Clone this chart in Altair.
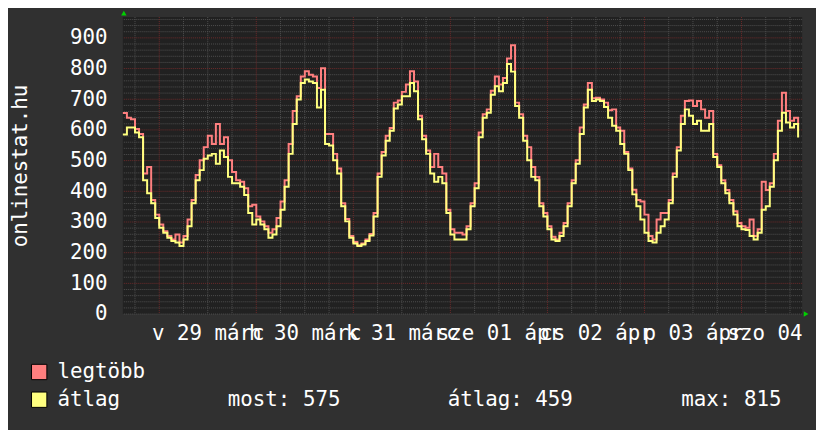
import json
import altair as alt
import pandas as pd

FONT = "DejaVu Sans Mono"

# hours since 28 Mar 15:00, one sample per hour
hours = list(range(168))

atlag = [585, 608, 608, 592, 576, 436, 394, 361, 313, 281, 265, 249, 238, 233, 222, 243,
         286, 361, 436, 469, 506, 517, 522, 490, 533, 512, 447, 426, 426, 415, 388, 329,
         292, 308, 292, 276, 249, 259, 286, 340, 415, 522, 619, 699, 753, 764, 758, 753,
         673, 731, 554, 549, 501, 458, 351, 302, 249, 230, 222, 227, 238, 256, 318, 447,
         517, 565, 597, 670, 683, 710, 710, 753, 726, 635, 570, 522, 458, 431, 447, 426,
         329, 259, 243, 243, 243, 276, 351, 410, 576, 640, 656, 715, 742, 726, 753, 815,
         790, 678, 640, 565, 501, 447, 436, 351, 318, 276, 243, 238, 254, 286, 351, 426,
         490, 587, 673, 731, 694, 699, 694, 675, 640, 614, 597, 554, 522, 469, 390, 351,
         308, 265, 238, 233, 265, 286, 308, 361, 447, 533, 619, 667, 646, 619, 630, 597,
         597, 619, 512, 479, 426, 394, 361, 324, 286, 276, 274, 254, 243, 265, 340, 351,
         415, 501, 597, 656, 624, 608, 619, 575]

legtobb = [655, 640, 635, 603, 587, 458, 479, 372, 324, 292, 270, 254, 243, 259, 233, 254,
           308, 372, 453, 501, 544, 581, 554, 619, 554, 576, 501, 463, 436, 431, 410, 351,
           356, 318, 302, 286, 265, 276, 313, 367, 436, 554, 662, 710, 774, 791, 780, 774,
           737, 801, 587, 587, 522, 474, 361, 310, 254, 235, 224, 230, 243, 261, 329, 458,
           528, 581, 606, 689, 696, 724, 748, 791, 758, 646, 581, 533, 479, 522, 479, 458,
           340, 276, 265, 265, 259, 286, 361, 426, 592, 651, 667, 728, 774, 748, 769, 833,
           876, 689, 651, 581, 544, 479, 447, 361, 329, 286, 252, 243, 265, 297, 361, 436,
           501, 608, 683, 753, 703, 705, 699, 689, 664, 667, 608, 597, 528, 474, 405, 372,
           367, 324, 254, 243, 308, 329, 329, 372, 458, 544, 646, 694, 696, 678, 694, 667,
           640, 662, 522, 485, 436, 404, 372, 335, 297, 286, 281, 308, 254, 276, 431, 404,
           426, 522, 630, 721, 662, 630, 640, 597]

# day labels centred at noon; the last one is cut at the end of the graph
day_label_hours = [21, 45, 69, 93, 117, 141, 168]
day_labels = ["v 29 márc", "h 30 márc", "k 31 márc", "sze 01 ápr", "cs 02 ápr",
              "p 03 ápr", "szo 04"]
midnight_hours = [9, 33, 57, 81, 105, 129, 153]
six_hour_hours = [h for h in range(3, 168, 6) if h not in midnight_hours]
y_ticks = list(range(0, 1000, 100))
y_major = list(range(100, 1000, 100))
y_minor = [v for v in range(0, 968, 20) if v % 100 != 0 or v == 0]

stat_most, stat_atlag, stat_max = 575, 459, 815

X_DOMAIN = [0, 168]
Y_DOMAIN = [0, 968]
xs = alt.Scale(domain=X_DOMAIN, nice=False, zero=False)
ys = alt.Scale(domain=Y_DOMAIN, nice=False)

label_expr = "{}[indexof({}, datum.value)]".format(
    json.dumps(day_labels, ensure_ascii=False), json.dumps(day_label_hours))

x_axis = alt.Axis(values=day_label_hours, labelExpr=label_expr, grid=False, ticks=False,
                  tickSize=0, domain=False, labelColor="white", labelFont=FONT,
                  labelFontSize=21, labelPadding=9, labelOverlap=False, labelFlush=True,
                  labelAngle=0, title=None)
y_axis = alt.Axis(values=y_ticks, grid=False, ticks=False, tickSize=0, domain=False,
                  labelColor="white", labelFont=FONT, labelFontSize=21, labelPadding=16,
                  title="onlinestat.hu", titleColor="white", titleFont=FONT,
                  titleFontSize=21, titleFontWeight="normal", titleX=-103, titleY=150,
                  titleAngle=270, titleAlign="center", titleBaseline="middle")

MINOR = "#505050"
MAJOR = "#6e2a2a"

hminor = alt.Chart(pd.DataFrame({"v": y_minor})).mark_rule(
    color=MINOR, strokeDash=[1, 1], strokeWidth=1).encode(
    y=alt.Y("v:Q", scale=ys, axis=y_axis))
vminor = alt.Chart(pd.DataFrame({"h": six_hour_hours})).mark_rule(
    color=MINOR, strokeDash=[1, 1], strokeWidth=1).encode(
    x=alt.X("h:Q", scale=xs, axis=x_axis))
hmajor = alt.Chart(pd.DataFrame({"v": y_major})).mark_rule(
    color=MAJOR, strokeDash=[1, 1], strokeWidth=1).encode(
    y=alt.Y("v:Q", scale=ys, axis=y_axis))
vmajor = alt.Chart(pd.DataFrame({"h": midnight_hours})).mark_rule(
    color=MAJOR, strokeDash=[1, 1], strokeWidth=1).encode(
    x=alt.X("h:Q", scale=xs, axis=x_axis))

df = pd.DataFrame({"hour": hours, "atlag": atlag, "legtobb": legtobb})

red_line = alt.Chart(df).mark_line(color="#ff7f7f", strokeWidth=2,
                                   interpolate="step-after").encode(
    x=alt.X("hour:Q", scale=xs, axis=x_axis),
    y=alt.Y("legtobb:Q", scale=ys, axis=y_axis))
yellow_line = alt.Chart(df).mark_line(color="#ffff7f", strokeWidth=2,
                                      interpolate="step-after").encode(
    x=alt.X("hour:Q", scale=xs, axis=x_axis),
    y=alt.Y("atlag:Q", scale=ys, axis=y_axis))

one = pd.DataFrame({"a": [0]})
up_arrow = alt.Chart(one).mark_point(shape="triangle-up", filled=True, size=30,
                                     color="#00d000", opacity=1).encode(
    x=alt.value(1), y=alt.value(-4))
right_arrow = alt.Chart(one).mark_point(shape="triangle-right", filled=True, size=30,
                                        color="#00d000", opacity=1).encode(
    x=alt.value(690), y=alt.value(300))


def legend_text(txt, x, y):
    return alt.Chart(one).mark_text(align="left", baseline="middle", font=FONT,
                                    fontSize=21, color="white").encode(
        x=alt.value(x), y=alt.value(y), text=alt.value(txt))


def legend_box(col, y):
    return alt.Chart(one).mark_square(size=240, filled=True, color=col, stroke="black",
                                      strokeWidth=1, opacity=1).encode(
        x=alt.value(-84.5), y=alt.value(y))


legend = [
    legend_box("#ff7f7f", 358.5),
    legend_box("#ffff7f", 386.5),
    legend_text("legtöbb", -66, 359),
    legend_text("átlag", -66, 387),
    legend_text(f"most: {stat_most}", 106, 387),
    legend_text(f"átlag: {stat_atlag}", 328, 387),
    legend_text(f"max: {stat_max}", 564, 387),
]

chart = alt.layer(hminor, vminor, hmajor, vmajor, red_line, yellow_line,
                  up_arrow, right_arrow, *legend).properties(
    width=686, height=300,
    padding={"left": 116, "top": 7, "right": 14, "bottom": 115},
    autosize=alt.AutoSizeParams(type="none"),
).configure(background="#303030").configure_view(fill="#212121", stroke=None)

chart.save("out.html", embed_options={"renderer": "svg", "actions": False})
